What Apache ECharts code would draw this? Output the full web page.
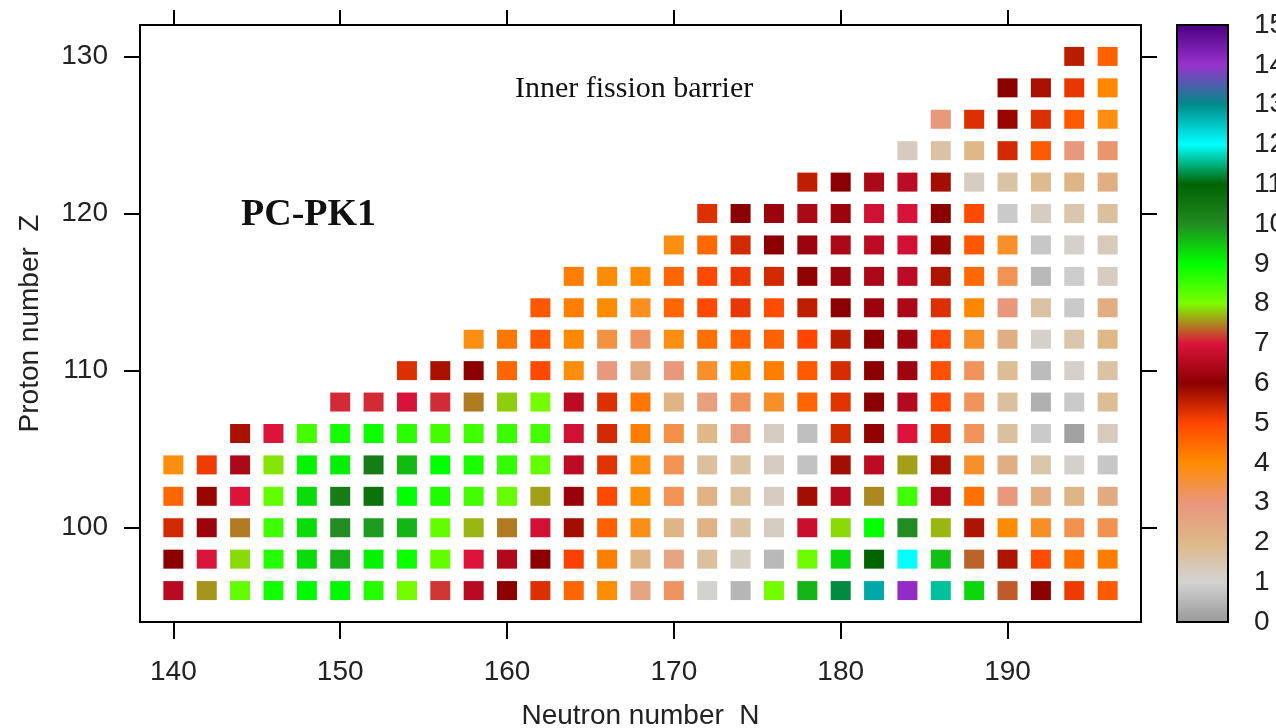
<!DOCTYPE html>
<html>
<head>
<meta charset="utf-8">
<script src="https://cdn.jsdelivr.net/npm/echarts@6/dist/echarts.min.js"></script>
<style>
  html, body { margin: 0; padding: 0; background: #fff; }
  #chart { width: 1276px; height: 728px; }
</style>
</head>
<body>
<div id="chart"></div>
<script>
// Inner fission barrier heights (MeV), PC-PK1, even-even nuclei.
// One array per proton number Z; entries run over even N starting at firstN.
const protonNumbers = [96, 98, 100, 102, 104, 106, 108, 110, 112, 114, 116, 118, 120, 122, 124, 126, 128, 130];
const firstN        = [140, 140, 140, 140, 140, 144, 150, 154, 158, 162, 164, 170, 172, 178, 184, 186, 190, 194];

const z096 = [6.55, 7.55, 8.2, 8.85, 9.05, 9.05, 8.7, 8.05, 7.15, 6.55, 6.0, 5.3, 4.55, 3.95, 2.55, 3.2, 1.05, 0.5, 8.05, 9.65, 11.25, 12.75, 14.1, 11.6, 9.35, 7.3, 6.0, 5.15, 4.7];
const z098 = [6.0, 7.0, 7.85, 8.7, 9.3, 9.7, 9.1, 8.9, 8.2, 7.0, 6.45, 6.0, 5.05, 4.2, 2.1, 2.55, 1.7, 1.2, 0.55, 8.1, 9.35, 11.0, 12.0, 9.55, 7.35, 5.7, 4.9, 4.4, 4.2];
const z100 = [5.4, 6.2, 7.45, 8.5, 9.3, 10.0, 9.85, 9.65, 8.2, 7.7, 7.45, 6.85, 5.8, 4.6, 3.8, 2.1, 2.2, 1.6, 1.25, 6.75, 7.85, 9.0, 10.0, 7.7, 5.7, 4.0, 3.7, 3.35, 3.35];
const z102 = [4.55, 5.9, 7.0, 8.2, 9.3, 10.35, 10.65, 9.0, 8.75, 8.45, 8.15, 7.6, 6.15, 4.95, 3.95, 3.3, 2.2, 1.7, 1.25, 5.8, 6.5, 7.5, 8.5, 6.4, 4.4, 2.95, 2.3, 2.1, 2.4];
const z104 = [3.9, 5.15, 6.4, 7.9, 9.1, 9.15, 10.35, 9.6, 9.0, 8.8, 8.6, 8.2, 6.6, 5.25, 3.9, 3.3, 1.7, 1.6, 1.25, 0.7, 5.8, 6.6, 7.6, 5.75, 3.65, 2.3, 1.5, 1.1, 0.8];
const z106 = [5.75, 7.0, 8.45, 8.85, 8.9, 8.65, 8.45, 8.5, 8.55, 8.45, 6.85, 5.4, 4.2, 3.4, 2.0, 2.7, 1.25, 0.65, 5.4, 5.95, 7.0, 5.2, 3.25, 1.7, 0.85, 0.15, 1.3];
const z108 = [7.1, 7.1, 6.95, 7.1, 7.45, 7.8, 8.05, 6.6, 5.3, 4.3, 2.1, 2.7, 3.25, 3.65, 4.55, 5.25, 6.0, 6.5, 4.9, 3.25, 1.7, 0.4, 0.85, 1.8];
const z110 = [5.3, 5.75, 6.0, 4.55, 4.95, 3.9, 2.95, 2.4, 2.9, 3.65, 4.0, 4.2, 4.7, 5.35, 6.0, 6.25, 4.85, 3.25, 1.8, 0.6, 1.1, 1.6];
const z112 = [3.85, 4.3, 4.75, 4.05, 3.45, 3.2, 3.85, 4.4, 4.6, 4.6, 5.0, 5.6, 6.0, 6.25, 4.95, 3.65, 2.3, 1.1, 1.5, 2.0];
const z114 = [4.75, 4.2, 4.0, 3.75, 4.55, 4.95, 5.2, 4.9, 5.55, 6.0, 6.2, 6.4, 5.3, 4.05, 3.0, 1.6, 0.85, 2.3];
const z116 = [4.2, 4.0, 4.0, 4.55, 4.95, 5.2, 5.4, 5.95, 6.2, 6.4, 6.6, 5.7, 4.5, 3.3, 0.55, 0.9, 1.25];
const z118 = [3.85, 4.5, 5.4, 6.0, 6.2, 6.4, 6.6, 6.85, 5.9, 4.75, 3.65, 0.8, 1.1, 1.35];
const z120 = [5.3, 6.0, 6.2, 6.4, 6.2, 6.85, 6.95, 6.0, 4.9, 0.85, 1.25, 1.5, 1.7];
const z122 = [5.55, 6.0, 6.4, 6.6, 5.8, 1.25, 1.6, 1.9, 2.1, 2.3];
const z124 = [1.3, 1.6, 2.0, 5.4, 4.7, 2.95, 3.1];
const z126 = [2.95, 5.3, 5.9, 5.3, 4.7, 3.85];
const z128 = [6.0, 5.75, 5.2, 4.05];
const z130 = [5.6, 4.6];

const barrierRows = [z096, z098, z100, z102, z104, z106, z108, z110, z112, z114, z116, z118, z120, z122, z124, z126, z128, z130];

// Axis ticks
const nTicks = [140, 150, 160, 170, 180, 190];
const zTicks = [100, 110, 120, 130];
const scaleMin = 0;
const scaleMax = 15;

// Colour palette, one colour per integer value 0..15
const palette = ['#999999', '#d3d3d3', '#deb887', '#e9967a', '#ff8c00', '#ff4500', '#8b0000', '#dc143c',
                 '#7cfc00', '#00ff00', '#228b22', '#006400', '#00ffff', '#008b8b', '#9932cc', '#4b0082'];

// Build [N, Z, B] triples
const cells = [];
protonNumbers.forEach(function (z, r) {
  barrierRows[r].forEach(function (b, k) {
    cells.push([firstN[r] + 2 * k, z, b]);
  });
});

// Gradient for the colour scale bar (top = max)
const barStops = palette.map(function (c, i) {
  return { offset: (scaleMax - i) / (scaleMax - scaleMin), color: c };
}).reverse();

const FONT = '"Liberation Sans", Arial, sans-serif';
const SERIF = '"Liberation Serif", "Times New Roman", serif';
const ink = '#222';

const chart = echarts.init(document.getElementById('chart'), null, { renderer: 'canvas' });

chart.setOption({
  animation: false,
  backgroundColor: '#fff',
  grid: [
    { left: 140, top: 25, width: 1001, height: 597, outerBoundsMode: 'none', containLabel: false,
      show: true, borderColor: '#000', borderWidth: 2, backgroundColor: 'transparent' },
    { left: 1177, top: 25, width: 51, height: 597, outerBoundsMode: 'none', containLabel: false,
      show: true, borderColor: '#000', borderWidth: 2, backgroundColor: 'transparent', z: 10 }
  ],
  xAxis: [
    {
      gridIndex: 0, type: 'value', position: 'bottom', min: 138, max: 198,
      axisLine: { show: true, onZero: false, lineStyle: { color: '#000', width: 2 } },
      axisTick: { show: true, inside: false, length: 17, customValues: nTicks, lineStyle: { color: '#000', width: 2 } },
      axisLabel: { show: true, customValues: nTicks, margin: 36, fontSize: 28, fontFamily: FONT, color: ink },
      splitLine: { show: false },
      name: 'Neutron number  N', nameLocation: 'middle', nameGap: 80,
      nameTextStyle: { fontSize: 28, fontFamily: FONT, color: ink }
    },
    {
      gridIndex: 0, type: 'value', position: 'top', min: 138, max: 198,
      axisLine: { show: true, onZero: false, lineStyle: { color: '#000', width: 2 } },
      axisTick: { show: true, inside: false, length: 15, customValues: nTicks, lineStyle: { color: '#000', width: 2 } },
      axisLabel: { show: false },
      splitLine: { show: false }
    },
    {
      gridIndex: 1, type: 'category', data: [''], position: 'bottom',
      axisLine: { show: false }, axisTick: { show: false }, axisLabel: { show: false }, splitLine: { show: false }
    }
  ],
  yAxis: [
    {
      gridIndex: 0, type: 'value', position: 'left', min: 94, max: 132,
      axisLine: { show: true, onZero: false, lineStyle: { color: '#000', width: 2 } },
      axisTick: { show: true, inside: false, length: 16, customValues: zTicks, lineStyle: { color: '#000', width: 2 } },
      axisLabel: { show: true, customValues: zTicks, margin: 32, fontSize: 28, fontFamily: FONT, color: ink },
      splitLine: { show: false },
      name: 'Proton number  Z', nameLocation: 'middle', nameGap: 96, nameRotate: 90,
      nameTextStyle: { fontSize: 28, fontFamily: FONT, color: ink }
    },
    {
      gridIndex: 0, type: 'value', position: 'right', min: 94, max: 132,
      axisLine: { show: true, onZero: false, lineStyle: { color: '#000', width: 2 } },
      axisTick: { show: true, inside: false, length: 16, customValues: zTicks, lineStyle: { color: '#000', width: 2 } },
      axisLabel: { show: false },
      splitLine: { show: false }
    },
    {
      gridIndex: 1, type: 'value', position: 'right', min: scaleMin, max: scaleMax, interval: 1,
      axisLine: { show: true, lineStyle: { color: '#000', width: 2 } },
      axisTick: { show: true, inside: true, length: 12, lineStyle: { color: '#000', width: 2 } },
      axisLabel: { show: true, margin: 26, fontSize: 28, fontFamily: FONT, color: ink },
      splitLine: { show: false }
    },
    {
      gridIndex: 1, type: 'value', position: 'left', min: scaleMin, max: scaleMax, interval: 1,
      axisLine: { show: true, lineStyle: { color: '#000', width: 2 } },
      axisTick: { show: true, inside: true, length: 12, lineStyle: { color: '#000', width: 2 } },
      axisLabel: { show: false },
      splitLine: { show: false }
    }
  ],
  visualMap: [{
    type: 'continuous', show: false, min: scaleMin, max: scaleMax, dimension: 2, seriesIndex: 0,
    inRange: { color: palette }
  }],
  series: [
    {
      type: 'scatter', xAxisIndex: 0, yAxisIndex: 0,
      symbol: 'rect', symbolSize: [20, 19],
      itemStyle: { opacity: 1 },
      data: cells,
      emphasis: { disabled: true },
      silent: true
    },
    {
      type: 'bar', xAxisIndex: 2, yAxisIndex: 2,
      data: [scaleMax], barWidth: '100%',
      itemStyle: { color: new echarts.graphic.LinearGradient(0, 0, 0, 1, barStops) },
      silent: true, z: 1
    }
  ],
  graphic: [
    {
      type: 'text', left: 515, top: 74,
      style: { text: 'Inner fission barrier', font: '30px ' + SERIF, fill: '#111' }
    },
    {
      type: 'text', left: 241, top: 196,
      style: { text: 'PC-PK1', font: 'bold 38px ' + SERIF, fill: '#111' }
    }
  ]
});
</script>
</body>
</html>
